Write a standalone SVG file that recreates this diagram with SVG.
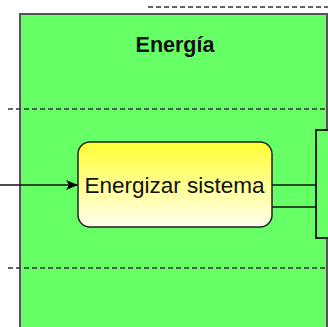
<svg xmlns="http://www.w3.org/2000/svg" width="328" height="327" viewBox="0 0 328 327">
  <defs>
    <linearGradient id="taskFill" x1="0" y1="0" x2="0" y2="1">
      <stop offset="0" stop-color="#ffff33"/>
      <stop offset="1" stop-color="#ffffee"/>
    </linearGradient>
    <marker id="arrow" viewBox="0 0 12 10" refX="12" refY="5" markerWidth="12" markerHeight="10" markerUnits="userSpaceOnUse" orient="auto">
      <path d="M0,0 L12,5 L0,10 L3,5 Z" fill="#000"/>
    </marker>
  </defs>
  <style>
    .lane { fill: #66ff66; stroke: #555; stroke-width: 2; }
    .sep { stroke: #333; stroke-width: 1.5; stroke-dasharray: 5 3; fill: none; }
    .edge { stroke: #111; stroke-width: 1.5; fill: none; }
    .task { fill: url(#taskFill); stroke: #222; stroke-width: 1.5; }
    .label { font-family: "Liberation Sans", Arial, sans-serif; fill: #111; text-anchor: middle; }
  </style>
  <rect width="328" height="327" fill="#ffffff"/>

  <g id="lane-energia">
    <rect class="lane" x="20" y="14" width="307" height="330"/>
    <text class="label" x="175" y="52" font-size="21.5" font-weight="bold">Energía</text>
  </g>

  <g id="separators">
    <path class="sep" d="M148 7 H328"/>
    <path class="sep" d="M8 109 H328"/>
    <path class="sep" d="M8 268 H328"/>
  </g>

  <g id="next-node">
    <rect x="316" y="130" width="20" height="108" fill="#66ff66" stroke="#222" stroke-width="2"/>
  </g>

  <g id="connectors">
    <path class="edge" d="M0 185 H78" marker-end="url(#arrow)"/>
    <path class="edge" d="M272 185 H316"/>
    <path class="edge" d="M272 207 H316"/>
  </g>

  <g id="task-energizar">
    <rect class="task" x="78" y="142" width="194" height="85" rx="12" ry="12"/>
    <text class="label" x="174.5" y="193" font-size="22.5">Energizar sistema</text>
  </g>
</svg>
